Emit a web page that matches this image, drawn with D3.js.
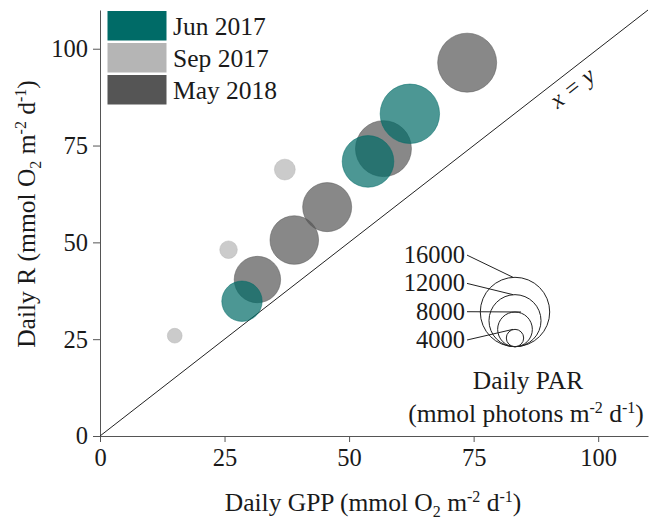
<!DOCTYPE html>
<html>
<head>
<meta charset="utf-8">
<script src="https://cdn.jsdelivr.net/npm/d3@7"></script>
<style>
  body { margin: 0; background: #fff; }
  svg text { font-family: "Liberation Serif", "Times New Roman", serif; fill: #1a1a1a; }
  .axis path, .axis line { stroke: #555; }
</style>
</head>
<body>
<div id="chart"></div>
<script>
// series: [GPP, R, PAR]
var seriesNames = ["Jun 2017", "Sep 2017", "May 2018"];
var seriesColors = ["#006b67", "#b5b5b5", "#555555"];
var jun2017 = [[28.5, 34.8, 9300], [53.8, 70.9, 11900], [62.2, 83.2, 13700]];
var sep2017 = [[15.0, 25.9, 3400], [25.8, 48.1, 4050], [37.1, 68.8, 4800]];
var may2018 = [[31.6, 40.4, 10700], [39.0, 50.6, 11200], [45.6, 59.1, 11300], [56.9, 74.2, 12900], [73.7, 96.4, 13600]];
var majorTicks = [0, 25, 50, 75, 100];
var minorTicks = [12.5, 37.5, 62.5, 87.5];
var parLegend = [4000, 8000, 12000, 16000];

(function(){

	var width = 653;
	var height = 519;
	var fs = 25.5;
	var svg = d3.select("div#chart")
	.append("svg")
	.attr("width", width)
	.attr("height", height);

	var x = d3.scaleLinear().domain([0, 110]).range([100, 648]);
	var y = d3.scaleLinear().domain([0, 110]).range([436, 10]);
	var r = d3.scaleLinear().domain([0, 16000]).range([0, 34.7]);

	// axes
	var gx = svg.append("g").attr("class", "axis")
		.attr("transform", "translate(0," + y(0) + ")");
	gx.call(d3.axisBottom(x).tickValues(minorTicks).tickSize(3.5).tickSizeOuter(0).tickFormat(""));
	gx.call(d3.axisBottom(x).tickValues(majorTicks).tickSize(6).tickSizeOuter(0));

	var gy = svg.append("g").attr("class", "axis")
		.attr("transform", "translate(" + x(0) + ",0)");
	gy.call(d3.axisLeft(y).tickValues(minorTicks).tickSize(3.5).tickSizeOuter(0).tickFormat(""));
	gy.call(d3.axisLeft(y).tickValues(majorTicks).tickSize(7).tickSizeOuter(0));

	svg.selectAll(".axis text")
		.attr("font-size", 24.5)
		.attr("fill", "#1a1a1a")
		.style("font-family", "Liberation Serif");
	gx.selectAll("text").attr("y", 13);
	gy.selectAll("text").attr("x", -12);

	// x = y line
	svg.append("line")
		.attr("x1", x(0)).attr("y1", y(0))
		.attr("x2", x(110)).attr("y2", y(110))
		.attr("stroke", "#222").attr("stroke-width", 1);

	var angle = Math.atan2(y(110) - y(0), x(110) - x(0)) * 180 / Math.PI;
	svg.append("text")
		.attr("transform", "translate(" + 577 + "," + 94 + ") rotate(" + angle + ")")
		.attr("text-anchor", "middle")
		.attr("font-size", 24)
		.attr("font-style", "italic")
		.text("x = y");

	// bubbles, May first so that Jun sits on top
	var groups = [
		{name: seriesNames[2], color: seriesColors[2], data: may2018},
		{name: seriesNames[1], color: seriesColors[1], data: sep2017},
		{name: seriesNames[0], color: seriesColors[0], data: jun2017}
	];

	groups.forEach(function(g){
		svg.selectAll(null)
			.data(g.data)
			.enter().append("circle")
			.attr("cx", function(d){ return x(d[0]); })
			.attr("cy", function(d){ return y(d[1]); })
			.attr("r", function(d){ return r(d[2]); })
			.attr("fill", g.color)
			.attr("fill-opacity", 0.7)
			.attr("stroke", g.color)
			.attr("stroke-opacity", 0.5)
			.attr("stroke-width", 1);
	});

	// colour legend
	var leg = svg.append("g");
	leg.selectAll("rect")
		.data(seriesNames)
		.enter().append("rect")
		.attr("x", 107.5)
		.attr("y", function(d, i){ return 11 + i * 32; })
		.attr("width", 59)
		.attr("height", 29.5)
		.attr("fill", function(d, i){ return seriesColors[i]; });
	leg.selectAll("text")
		.data(seriesNames)
		.enter().append("text")
		.attr("x", 173)
		.attr("y", function(d, i){ return 35 + i * 32; })
		.attr("font-size", fs)
		.text(function(d){ return d; });

	// PAR size legend
	var cx = 515, base = 346.7;
	var pl = svg.append("g");
	pl.selectAll("circle")
		.data(parLegend.slice().reverse())
		.enter().append("circle")
		.attr("cx", cx)
		.attr("cy", function(d){ return base - r(d); })
		.attr("r", function(d){ return r(d); })
		.attr("fill", "none")
		.attr("stroke", "#222")
		.attr("stroke-width", 1);
	pl.selectAll("line")
		.data(parLegend)
		.enter().append("line")
		.attr("x1", 467)
		.attr("y1", function(d, i){ return 340 - i * 28.3; })
		.attr("x2", function(d){ return d === 8000 ? cx + 6 : cx - 2; })
		.attr("y2", function(d){ return base - 2 * r(d); })
		.attr("stroke", "#222")
		.attr("stroke-width", 1);
	pl.selectAll("text")
		.data(parLegend)
		.enter().append("text")
		.attr("x", 465)
		.attr("y", function(d, i){ return 340 - i * 28.3; })
		.attr("dy", "0.33em")
		.attr("text-anchor", "end")
		.attr("font-size", 24.5)
		.text(function(d){ return d; });

	pl.append("text")
		.attr("x", 528).attr("y", 389)
		.attr("text-anchor", "middle")
		.attr("font-size", fs)
		.text("Daily PAR");
	var t2 = pl.append("text")
		.attr("x", 526).attr("y", 422)
		.attr("text-anchor", "middle")
		.attr("font-size", fs);
	t2.append("tspan").text("(mmol photons m");
	t2.append("tspan").attr("dy", -9).attr("font-size", 16).text("-2");
	t2.append("tspan").attr("dy", 9).text(" d");
	t2.append("tspan").attr("dy", -9).attr("font-size", 16).text("-1");
	t2.append("tspan").attr("dy", 9).text(")");

	// axis titles
	function unitLabel(sel){
		sel.append("tspan").text(sel.attr("data-lead") + " (mmol O");
		sel.append("tspan").attr("dy", 6).attr("font-size", 16).text("2");
		sel.append("tspan").attr("dy", -6).text(" m");
		sel.append("tspan").attr("dy", -9).attr("font-size", 16).text("-2");
		sel.append("tspan").attr("dy", 9).text(" d");
		sel.append("tspan").attr("dy", -9).attr("font-size", 16).text("-1");
		sel.append("tspan").attr("dy", 9).text(")");
	}

	svg.append("text")
		.attr("x", 373).attr("y", 511)
		.attr("text-anchor", "middle")
		.attr("font-size", fs)
		.attr("data-lead", "Daily GPP")
		.call(unitLabel);

	svg.append("text")
		.attr("transform", "translate(35,214) rotate(-90)")
		.attr("text-anchor", "middle")
		.attr("font-size", fs)
		.attr("data-lead", "Daily R")
		.call(unitLabel);

})();
</script>
</body>
</html>
